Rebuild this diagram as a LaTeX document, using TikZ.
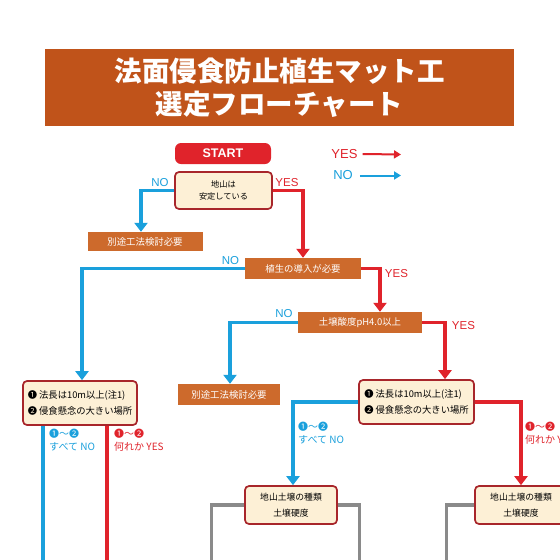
\documentclass[tikz,border=0pt]{standalone}
\usepackage{fontspec}
\setmainfont{Noto Sans CJK JP}
\newfontfamily\lat{Liberation Sans}
\usetikzlibrary{arrows.meta,calc}
\definecolor{ttl}{HTML}{C0531A}
\definecolor{orb}{HTML}{CD6A2C}
\definecolor{cream}{HTML}{FDF0D6}
\definecolor{bord}{HTML}{A8262B}
\definecolor{yesc}{HTML}{E0232B}
\definecolor{noc}{HTML}{1AA0DC}
\definecolor{gry}{HTML}{8A8A8A}
\tikzset{
  orbox/.style={fill=orb, draw=none, text=white, inner sep=0pt, font=\fontsize{9.4}{11}\selectfont},
  qbox/.style={fill=cream, draw=bord, line width=1.7pt, rounded corners=4pt, align=center, inner sep=0pt, font=\fontsize{9.3}{16}\selectfont},
  yesl/.style={draw=yesc, line width=3.2pt},
  nol/.style={draw=noc, line width=3.2pt},
  gryl/.style={draw=gry, line width=3.2pt},
  arr/.style={-{Triangle[width=13pt,length=9pt]}},
  lgarr/.style={line width=2pt, -{Triangle[width=8pt,length=7pt]}},
  nolab/.style={text=noc, inner sep=0pt, font=\lat\fontsize{11.5}{13}\selectfont},
  yeslab/.style={text=yesc, inner sep=0pt, font=\lat\fontsize{11.5}{13}\selectfont},
  sublab/.style={inner sep=0pt, anchor=north west, align=left, font=\fontsize{10}{13}\selectfont},
}
\begin{document}
\begin{tikzpicture}[x=1pt,y=-1pt]
\useasboundingbox (0,0) rectangle (560,560);
\clip (0,0) rectangle (560,560);
\fill[white] (0,0) rectangle (560,560);
% title
\node[fill=ttl, minimum width=469pt, minimum height=77pt, text=white, align=center, inner sep=0pt,
      font=\bfseries\fontsize{27.5}{33}\selectfont] (title) at (279.5,87.5)
      {法面侵食防止植生マット工\\選定フローチャート};
% legend
\node[yeslab, font=\lat\fontsize{13}{14}\selectfont] (ly) at (344.5,154) {YES};
\node[nolab, font=\lat\fontsize{13}{14}\selectfont] (ln) at (343,175.5) {NO};
\coordinate (lye) at (401,154.5);
\coordinate (lne) at (401,175.5);
\draw[yesc, lgarr] ([xshift=5pt]ly.east) -- (lye);
\draw[noc, lgarr] ([xshift=7pt]ln.east) -- (lne);
% nodes
\node[fill=yesc, rounded corners=6pt, text=white, minimum width=96pt, minimum height=21pt, inner sep=0pt,
      font=\lat\bfseries\fontsize{12.5}{14}\selectfont] (start) at (223,153.5) {START};
\node[qbox, minimum width=97pt, minimum height=37pt, font=\fontsize{8.2}{12}\selectfont] (q1) at (223.5,190.5) {地山は\\安定している};
\node[orbox, minimum width=115pt, minimum height=19pt] (b1) at (145,241.5) {別途工法検討必要};
\node[orbox, minimum width=116pt, minimum height=21pt] (b2) at (303,268.5) {植生の導入が必要};
\node[orbox, minimum width=124pt, minimum height=21pt] (b3) at (360,322.5) {土壌酸度pH4.0以上};
\node[orbox, minimum width=102pt, minimum height=21pt] (b4) at (229,394.5) {別途工法検討必要};
\node[qbox, align=left, minimum width=114pt, minimum height=44pt] (ql) at (80,403)
  {❶ 法長は10m以上(注1)\\❷ 侵食懸念の大きい場所};
\node[qbox, align=left, minimum width=115pt, minimum height=44pt] (qr) at (416.5,402)
  {❶ 法長は10m以上(注1)\\❷ 侵食懸念の大きい場所};
\node[qbox, minimum width=92pt, minimum height=38pt, font=\fontsize{8.8}{16}\selectfont] (bl) at (291,505) {地山土壌の種類\\土壌硬度};
\node[qbox, minimum width=92pt, minimum height=38pt, font=\fontsize{8.8}{16}\selectfont] (br) at (521,505) {地山土壌の種類\\土壌硬度};
% connectors
\draw[nol, arr] (q1.west) -| ($(b1.north)+(-4,0)$);
\draw[yesl, arr] (q1.east) -| (b2.north);
\draw[nol, arr] (b2.west) -| ($(ql.north)+(2,0)$);
\draw[yesl, arr] (b2.east) -| ($(b3.north)+(20,0)$);
\draw[nol, arr] (b3.west) -| ($(b4.north)+(1,0)$);
\draw[yesl, arr] (b3.east) -| ($(qr.north)+(28.5,0)$);
\draw[nol, arr] (qr.west) -| ($(bl.north)+(2,0)$);
\draw[yesl, arr] (qr.east) -| (br.north);
\draw[nol] ($(ql.south)+(-37,0)$) -- ($(ql.south)+(-37,200)$);
\draw[yesl] ($(ql.south)+(27,0)$) -- ($(ql.south)+(27,200)$);
\draw[gryl] (bl.west) -| ($(bl.west)+(-33,100)$);
\draw[gryl] (bl.east) -| ($(bl.east)+(22,100)$);
\draw[gryl] (br.west) -| ($(br.west)+(-28,100)$);
% labels
\node[nolab] at (160,183) {NO};
\node[yeslab] at (287,183) {YES};
\node[nolab] at (230.5,261) {NO};
\node[yeslab] at (396.5,274) {YES};
\node[nolab] at (284,314) {NO};
\node[yeslab] at (463.5,326) {YES};
\node[sublab, text=noc] at (49,429) {❶〜❷\\すべて NO};
\node[sublab, text=yesc] at (114,429) {❶〜❷\\何れか YES};
\node[sublab, text=noc] at (298,422) {❶〜❷\\すべて NO};
\node[sublab, text=yesc] at (525,422) {❶〜❷\\何れか YES};
\end{tikzpicture}
\end{document}
